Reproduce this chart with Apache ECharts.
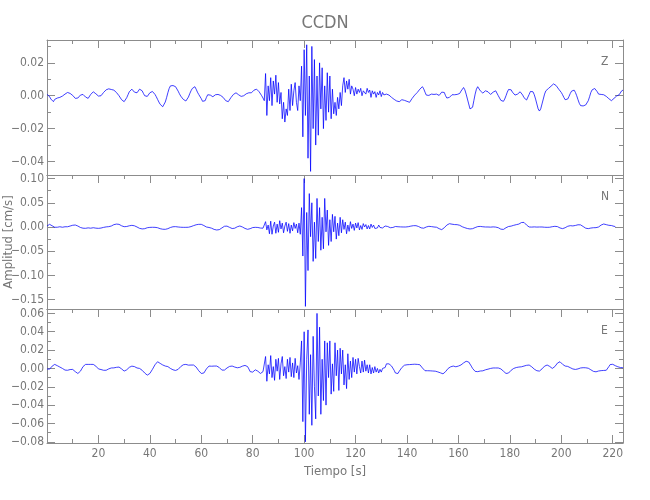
<!DOCTYPE html>
<html>
<head>
<meta charset="utf-8">
<script src="https://cdn.jsdelivr.net/npm/echarts@6/dist/echarts.min.js"></script>
<style>html,body{margin:0;padding:0;background:#fff}#chart{width:650px;height:500px}</style>
</head>
<body>
<div id="chart"></div>
<script>
// ---- data ----
const stationName = 'CCDN';
const componentNames = ['Z', 'N', 'E'];
const yAxisTitle = 'Amplitud [cm/s]';
const xAxisTitle = 'Tiempo [s]';
const SAMPLE_DT = 0.5;      // s between samples
const T_START = 0;          // s
const timeRange = [0, 224];
const timeTicks = [20, 40, 60, 80, 100, 120, 140, 160, 180, 200, 220];
const timeMinorTicks = [10, 30, 50, 70, 90, 110, 130, 150, 170, 190, 210];

const zRange = [-0.0482, 0.0339];
const zTicks = [-0.04, -0.02, 0, 0.02];
const zMinorTicks = [-0.03, -0.01, 0.01, 0.03];
const nRange = [-0.1694, 0.1074];
const nTicks = [-0.15, -0.10, -0.05, 0, 0.05, 0.10];
const nMinorTicks = [-0.125, -0.075, -0.025, 0.025, 0.075];
const eRange = [-0.0813, 0.0648];
const eTicks = [-0.08, -0.06, -0.04, -0.02, 0, 0.02, 0.04, 0.06];
const eMinorTicks = [-0.07, -0.05, -0.03, -0.01, 0.01, 0.03, 0.05];

// vertical velocity (cm/s), one value every SAMPLE_DT
const zValues = [
0.0008,0.0002,-0.0005,-0.002,-0.0032,-0.0036,-0.0022,-0.0012,-0.0014,-0.0008,
-0.001,-0.0006,-0.0002,0.0004,0.001,0.0016,0.002,0.0018,0.0014,0.0012,
0.0002,-0.0008,-0.0016,-0.002,-0.0014,-0.0004,0.0004,0.001,0.0008,0.0002,
-0.0008,-0.0014,-0.0016,-0.0006,0.0008,0.0018,0.0024,0.002,0.0012,0.0004,
-0.0002,-0.0006,0,0.001,0.002,0.0028,0.0036,0.004,0.0042,0.0044,
0.0038,0.0036,0.0034,0.003,0.002,0.001,0,-0.0012,-0.0024,-0.0032,
-0.0036,-0.0028,-0.0012,0.0006,0.0024,0.0036,0.004,0.0032,0.0022,0.0012,
0.0018,0.003,0.004,0.0044,0.003,0.0014,0,-0.001,-0.0004,0.0008,
0.0018,0.0024,0.0026,0.002,0.0008,-0.0006,-0.0022,-0.0038,-0.0052,-0.0062,
-0.0067,-0.0058,-0.0038,-0.0012,0.0018,0.0044,0.006,0.0065,0.0062,0.0058,
0.0055,0.0044,0.0028,0.0012,-0.0002,-0.0012,-0.0022,-0.003,-0.0032,-0.0024,
-0.0008,0.0012,0.003,0.0044,0.0052,0.0055,0.004,0.0022,0.0008,0.0002,
-0.0018,-0.0034,-0.0042,-0.003,-0.001,0.0006,0.001,0.0004,-0.0002,-0.0006,
0,0.0006,0.0004,0.0008,0.0008,0.0002,-0.0004,-0.001,-0.002,-0.003,
-0.0034,-0.0036,-0.0026,-0.0012,0,0.0008,0.0014,0.0018,0.0012,0.0006,
0,-0.0004,-0.0006,0,0.0006,0.0012,0.0014,0.0018,0.0014,0.0018,
0.0026,0.0034,0.0038,0.004,0.0034,0.0024,0.0012,0,-0.0014,-0.003,
0.0135,-0.012,0.006,-0.003,0.011,-0.006,0.009,0.001,0.0125,-0.004,
0.008,-0.005,0.002,-0.014,-0.004,-0.016,-0.008,-0.012,0.004,-0.009,
0.007,-0.006,0.003,0.008,-0.004,-0.009,0.006,-0.003,0.018,-0.025,
0.028,-0.012,0.031,-0.038,0.012,-0.046,0.03,-0.02,0.022,-0.03,
0.012,-0.024,0.02,-0.008,0.017,-0.02,0.006,-0.015,0.014,-0.01,
0.012,-0.014,0.004,-0.011,-0.004,-0.012,-0.001,-0.008,0.002,-0.006,
0.006,0.011,0.002,0.009,0.004,0.01,0.001,0.006,0.004,0,
0.005,0.001,0.004,0.002,0.0045,0,0.003,0.004,0.001,0.0045,
0.002,0.0035,-0.001,0.003,0.001,0.0025,-0.001,0.002,0.0005,0.003,
-0.0005,0.002,0.0005,0.0015,0.001,0.0005,
0.0004,-0.0002,-0.001,-0.0018,-0.0022,-0.0028,-0.0032,-0.0036,-0.0036,-0.003,
-0.0024,-0.0022,-0.0028,-0.0026,-0.0034,-0.0038,-0.004,-0.003,-0.0016,-0.0006,
0.0004,0.0012,0.002,0.003,0.004,0.005,0.0055,0.0042,0.0022,0.0004,
-0.0006,0.0002,0.0006,0.001,0.0014,0.0008,0.0006,0.001,0.0004,0.0002,
0.001,0.0022,0.0032,0.002,0,-0.0014,-0.002,-0.001,0.0002,0.0006,
0.0008,0.0006,0.0004,0.0008,0.0006,0.0014,0.0028,0.004,0.005,0.0036,
0.001,-0.002,-0.005,-0.008,-0.009,-0.007,-0.003,0.001,0.004,0.0055,
0.0044,0.003,0.0024,0.0016,0.0022,0.003,0.0034,0.0024,0.0012,0.0008,
0.0014,0.0022,0.0026,0.003,0.0018,0,-0.0014,-0.0028,-0.0036,-0.0034,
-0.002,0,0.0022,0.0038,0.0044,0.0036,0.0022,0.001,0.0004,0.0002,
0.001,0.0018,0.0024,0.002,0.0004,-0.0012,-0.0022,-0.0026,-0.0014,0.0008,
0.0026,0.0034,0.0024,0.0006,-0.002,-0.005,-0.008,-0.0093,-0.008,-0.005,
-0.002,0.001,0.003,0.004,0.0044,0.005,0.0058,0.0066,0.0072,0.0075,
0.0062,0.005,0.004,0.003,0.002,0.0006,-0.001,-0.0024,-0.003,-0.002,
-0.0004,0.0014,0.0028,0.0036,0.0034,0.002,0,-0.0024,-0.0046,-0.006,
-0.0066,-0.0062,-0.0054,-0.0056,-0.0048,-0.003,-0.0006,0.002,0.0036,0.0042,
0.0044,0.004,0.0024,0.001,0.0004,0.0008,0.0002,0.0006,0,-0.0004,
-0.001,-0.0018,-0.0024,-0.003,-0.0028,-0.0016,-0.0006,-0.0002,0.0002,0.0006,
0.0018,0.003,0.0034
];

// north-south velocity (cm/s)
const nValues = [
0.002,0.004,0.0055,0.0045,0.0025,0.0005,-0.0005,-0.001,-0.0005,0,
0.0005,0,-0.0005,0,0.0005,0.0008,0.0005,0.001,0.002,0.003,
0.0036,0.004,0.0041,0.0035,0.002,0.0005,-0.001,-0.002,-0.0025,-0.0027,
-0.0027,-0.0022,-0.0018,-0.0022,-0.0025,-0.002,-0.0015,-0.0018,-0.0024,-0.0027,
-0.0028,-0.0027,-0.0022,-0.0015,-0.0008,-0.0002,0.0002,0.0005,0.0007,0.001,
0.002,0.0035,0.0048,0.0056,0.006,0.0062,0.0055,0.004,0.0025,0.0012,
0.0006,0.0007,0.001,0.0018,0.0025,0.003,0.0034,0.0032,0.0025,0.0012,
0,-0.0015,-0.0028,-0.0036,-0.004,-0.0041,-0.0035,-0.0025,-0.0015,-0.001,
-0.0008,-0.0005,-0.0006,-0.0008,-0.0007,-0.0007,-0.0015,-0.0025,-0.0035,-0.0042,
-0.0046,-0.0048,-0.0048,-0.0045,-0.0035,-0.0022,-0.001,0,0.0005,0.0007,
0.0007,0.0005,0,-0.0003,-0.0005,-0.0006,-0.0007,-0.0008,-0.0007,-0.0007,
-0.0005,0,0.0008,0.0018,0.0028,0.0038,0.0046,0.0052,0.0055,0.0056,
0.0055,0.0045,0.003,0.0015,0,-0.0007,-0.001,-0.0015,-0.0025,-0.0038,
-0.005,-0.0058,-0.0062,-0.0062,-0.0055,-0.004,-0.002,0,0.0015,0.0021,
0.0018,0.0008,-0.0008,-0.0022,-0.0032,-0.0034,-0.0025,-0.001,0.0005,0.0018,
0.0021,0.0015,0,-0.0015,-0.003,-0.0042,-0.0048,-0.0045,-0.0035,-0.0022,
-0.0012,-0.0008,-0.0007,-0.0007,-0.001,-0.0015,-0.0022,-0.0027,-0.0025,-0.0015,
0.011,-0.006,0.004,-0.014,0.012,-0.015,0.002,0.01,-0.013,0.006,
-0.011,0.013,-0.004,0.008,-0.012,0.002,0.01,-0.009,0.007,-0.013,
0.004,-0.008,0.009,-0.003,0.006,-0.012,0.008,-0.015,0.04,-0.06,
0.1,-0.164,0.03,-0.09,0.069,-0.02,0.05,-0.071,0.01,-0.065,
0.059,-0.03,0.04,-0.048,0.02,-0.045,0.059,-0.01,0.035,-0.038,
0.015,-0.03,0.026,-0.01,0.022,-0.025,0.008,-0.018,0.02,-0.012,
0.015,-0.005,0.01,-0.014,0.004,-0.009,0.011,-0.003,0.006,-0.007,
0.008,-0.002,0.009,-0.006,0.003,-0.005,0.007,0,0.005,-0.004,
0.003,-0.004,0.006,-0.001,0.004,-0.003,0.001,-0.002,0.004,-0.001,
0.003,-0.002,0.001,0.002,-0.001,0.001,
0.002,-0.0015,0.0025,-0.001,0.002,0.001,0.0014,0.0005,0.0008,0.0002,
0.0006,0,0.0004,0,0.0002,0.0006,0.0012,0.0018,0.0024,0.0027,
0.0028,0.0027,0.002,0.001,-0.0005,-0.0018,-0.0027,-0.0025,-0.0012,0,
0.001,0.0014,0.0012,0.0008,0.0004,0,0,-0.0005,-0.0018,-0.0035,
-0.005,-0.0055,-0.004,-0.0015,0.0015,0.004,0.006,0.0068,0.0065,0.0058,
0.0052,0.005,0.005,0.0048,0.0045,0.0035,0.002,0.0005,-0.0005,-0.0015,
-0.0025,-0.0032,-0.0038,-0.0041,-0.0041,-0.0035,-0.0025,-0.0012,0,0.0008,
0.0014,0.0012,0.0008,0.0005,0.0002,0,0.0002,0,0,-0.0003,
0,0.0002,0,-0.0002,-0.0005,-0.0015,-0.003,-0.0045,-0.0055,-0.005,
-0.0035,-0.0015,0,0.001,0.0014,0.0018,0.0025,0.0035,0.0045,0.0048,
0.0052,0.006,0.0075,0.0092,0.0103,0.0095,0.007,0.004,0.0015,0,
-0.0003,-0.0002,0,0.0002,0,-0.0002,0,0,0.0002,0,
-0.0003,-0.0005,-0.0007,-0.0007,-0.0007,-0.0005,0,0.0006,0.0012,0.0014,
0.0014,0.0008,-0.0005,-0.002,-0.003,-0.0034,-0.0028,-0.0015,0,0.0015,
0.0025,0.0027,0.0025,0.0022,0.0025,0.0032,0.004,0.0046,0.0048,0.0044,
0.003,0.001,-0.001,-0.0025,-0.0032,-0.0034,-0.003,-0.0022,-0.0018,-0.0015,
-0.0014,-0.0014,-0.001,0,0.002,0.004,0.0055,0.0062,0.0058,0.0048,
0.004,0.0035,0.0034,0.003,0.0022,0.0014,0.001
];

// east-west velocity (cm/s)
const eValues = [
-0.0005,-0.0011,-0.0008,0.0005,0.0025,0.004,0.0044,0.0038,0.003,0.0022,
0.0015,0.0008,0,-0.001,-0.0018,-0.0022,-0.002,-0.0015,-0.0012,-0.001,
-0.0011,-0.002,-0.0035,-0.0048,-0.0055,-0.005,-0.003,-0.0005,0.002,0.0038,
0.0044,0.0046,0.0044,0.0042,0.0044,0.0045,0.0044,0.004,0.0025,0.0008,
-0.0005,-0.0011,-0.0012,-0.0015,-0.002,-0.0022,-0.002,-0.0012,-0.0005,0,
0.0005,0.0007,0.0006,0.0008,0.0012,0.0015,0.0015,0.0008,-0.0005,-0.002,
-0.0029,-0.0025,-0.0015,0,0.0012,0.002,0.0025,0.0026,0.002,0.0012,
0.0005,0,0,-0.0008,-0.002,-0.0035,-0.005,-0.0065,-0.0073,-0.007,
-0.0055,-0.0035,-0.001,0.0015,0.004,0.006,0.0073,0.0068,0.0055,0.0045,
0.0038,0.003,0.0026,0.0025,0.002,0.001,0,-0.0008,-0.0015,-0.002,
-0.0022,-0.002,-0.001,0.0005,0.002,0.0032,0.004,0.0044,0.0044,0.004,
0.0036,0.0035,0.0037,0.0038,0.0037,0.003,0.0015,-0.0005,-0.0025,-0.0045,
-0.0055,-0.0059,-0.005,-0.003,-0.0005,0.0015,0.0026,0.0026,0.0024,0.0025,
0.0026,0.0027,0.0026,0.0022,0.001,-0.0005,-0.0018,-0.0022,-0.0018,-0.0008,
0.0005,0.0015,0.0022,0.0026,0.0026,0.0022,0.0015,0.001,0.0007,0.0008,
0.0012,0.0018,0.0025,0.003,0.0033,0.0033,0.002,-0.0005,-0.0035,-0.0048,
-0.004,-0.0025,-0.0015,-0.0018,-0.003,-0.0045,-0.0055,-0.005,-0.0035,-0.0015,
0.013,-0.014,0.004,-0.006,0.014,-0.01,0.002,-0.013,0.01,-0.003,
0.011,-0.012,0.005,0.013,-0.008,0.002,-0.011,0.01,-0.004,0.012,
-0.009,0.006,-0.01,0.011,-0.005,0.003,-0.012,0.006,0.03,-0.058,
0.04,-0.08,0.01,0.042,-0.05,0.015,-0.062,0.035,-0.02,-0.055,
0.06,-0.03,0.045,-0.05,0.01,-0.035,0.03,-0.04,0.028,-0.01,
0.03,-0.028,0.005,-0.025,0.028,-0.008,0.02,-0.024,0.022,-0.006,
0.02,-0.018,0.004,-0.022,0.016,-0.012,0.008,-0.01,0.012,-0.004,
0.01,-0.006,0.011,0.002,-0.005,0.008,-0.004,0.009,-0.003,0.004,
-0.005,0.004,-0.006,0.001,-0.005,0.002,-0.004,0,-0.005,-0.001,
-0.004,0,0.002,0.001,0.005,0.006,
0.005,0.003,0.0026,0.001,-0.002,-0.005,-0.0066,-0.0055,-0.003,-0.001,
0.001,0.0025,0.0035,0.0044,0.004,0.0036,0.0042,0.0048,0.0044,0.004,
0.0046,0.005,0.0044,0.0044,0.004,0.0025,0.0005,-0.0015,-0.0025,-0.0029,
-0.0025,-0.0022,-0.0026,-0.003,-0.0028,-0.0025,-0.003,-0.0035,-0.0038,-0.0042,
-0.0048,-0.0055,-0.0059,-0.005,-0.0035,-0.0015,0,0.001,0.0018,0.0024,
0.0026,0.0022,0.0018,0.0022,0.0026,0.003,0.0038,0.0048,0.006,0.0072,
0.0078,0.008,0.007,0.005,0.0025,0,-0.002,-0.0032,-0.0037,-0.0035,
-0.003,-0.0028,-0.003,-0.0026,-0.002,-0.0015,-0.0011,-0.0008,-0.0005,0,
0.0003,0.0005,0.0007,0.0005,0.0003,0.0005,0.0002,-0.0005,-0.0015,-0.003,
-0.0045,-0.0055,-0.0059,-0.005,-0.0035,-0.002,-0.0008,0,0.0005,0.001,
0.0012,0.0015,0.0015,0.0018,0.0022,0.0026,0.003,0.0034,0.0036,0.0037,
0.003,0.0018,0.0005,-0.0008,-0.0018,-0.0025,-0.0029,-0.0029,-0.002,-0.0005,
0.001,0.0025,0.0034,0.0037,0.0032,0.0022,0.001,0,0.0005,0.002,
0.004,0.0058,0.007,0.0073,0.006,0.0045,0.0032,0.0026,0.0025,0.0022,
0.0015,0.0008,0,-0.0006,-0.001,-0.0011,-0.001,-0.0005,0,0.0005,
0.0007,0.0008,0.0007,0.0007,0.0005,0.0002,-0.0005,-0.0015,-0.0025,-0.0032,
-0.0037,-0.0037,-0.0032,-0.0028,-0.0025,-0.0024,-0.0022,-0.0022,-0.0022,-0.002,
-0.0005,0.002,0.0042,0.0051,0.0045,0.0036,0.003,0.0025,0.0018,0.0012,
0.001,0.0008,0.0007
];

// ---- chart ----
const FONT = "'Liberation Sans Narrow','DejaVu Sans Condensed','Liberation Sans',sans-serif";
const TXT = '#777777';
const AX = '#8c8c8c';
const traces = [zValues, nValues, eValues];
const ranges = [zRange, nRange, eRange];
const majors = [zTicks, nTicks, eTicks];
const minors = [zMinorTicks, nMinorTicks, eMinorTicks];
const grids = [
  {left: 47, width: 576, top: 40, height: 135},
  {left: 47, width: 576, top: 175, height: 134},
  {left: 47, width: 576, top: 309, height: 134}
];
const fmtY = v => (v < 0 ? '\u2212' : '') + Math.abs(v).toFixed(2);

const xAxes = [], yAxes = [], series = [];
grids.forEach((g, gi) => {
  const last = gi === grids.length - 1;
  const baseX = {type: 'value', gridIndex: gi, min: timeRange[0], max: timeRange[1],
    splitLine: {show: false}, axisLine: {onZero: false, lineStyle: {color: AX, width: 1}}};
  const mainX = xAxes.length;
  xAxes.push(Object.assign({}, baseX, {
    position: 'bottom',
    axisTick: {show: last, inside: true, length: 8, customValues: timeTicks, lineStyle: {color: AX}},
    axisLabel: {show: last, customValues: timeTicks, color: TXT, fontFamily: FONT, fontSize: 12, margin: 5},
    name: last ? xAxisTitle : '', nameLocation: 'middle', nameGap: 22,
    nameTextStyle: {color: TXT, fontFamily: FONT, fontSize: 13}
  }));
  if (last) xAxes.push(Object.assign({}, baseX, {position: 'bottom', axisLine: {show: false, onZero: false},
    axisTick: {show: true, inside: true, length: 4, customValues: timeMinorTicks, lineStyle: {color: AX}},
    axisLabel: {show: false}}));
  xAxes.push(Object.assign({}, baseX, {position: 'top',
    axisTick: {show: true, inside: true, length: 8, customValues: timeTicks, lineStyle: {color: AX}},
    axisLabel: {show: false}}));
  xAxes.push(Object.assign({}, baseX, {position: 'top', axisLine: {show: false, onZero: false},
    axisTick: {show: true, inside: true, length: 4, customValues: timeMinorTicks, lineStyle: {color: AX}},
    axisLabel: {show: false}}));

  const baseY = {type: 'value', gridIndex: gi, min: ranges[gi][0], max: ranges[gi][1],
    splitLine: {show: false}, axisLine: {onZero: false, lineStyle: {color: AX, width: 1}}};
  const mainY = yAxes.length;
  yAxes.push(Object.assign({}, baseY, {position: 'left',
    axisTick: {show: true, inside: true, length: 8, customValues: majors[gi], lineStyle: {color: AX}},
    axisLabel: {show: true, customValues: majors[gi], formatter: fmtY, color: TXT, fontFamily: FONT, fontSize: 12, margin: 3}
  }));
  yAxes.push(Object.assign({}, baseY, {position: 'left', axisLine: {show: false, onZero: false},
    axisTick: {show: true, inside: true, length: 4, customValues: minors[gi], lineStyle: {color: AX}},
    axisLabel: {show: false}}));
  yAxes.push(Object.assign({}, baseY, {position: 'right',
    axisTick: {show: true, inside: true, length: 8, customValues: majors[gi], lineStyle: {color: AX}},
    axisLabel: {show: false}}));
  yAxes.push(Object.assign({}, baseY, {position: 'right', axisLine: {show: false, onZero: false},
    axisTick: {show: true, inside: true, length: 4, customValues: minors[gi], lineStyle: {color: AX}},
    axisLabel: {show: false}}));

  series.push({
    type: 'line', name: componentNames[gi], xAxisIndex: mainX, yAxisIndex: mainY,
    data: traces[gi].map((v, i) => [T_START + i * SAMPLE_DT, v]),
    showSymbol: false, symbol: 'none', clip: true,
    lineStyle: {color: '#0000ff', width: 0.75}, silent: true
  });
});

const graphics = componentNames.map((c, gi) => ({
  type: 'text', left: 601, top: grids[gi].top + 16,
  style: {text: c, fill: TXT, font: '12px ' + FONT}
}));
graphics.push({
  type: 'text', x: 9, y: 242, rotation: Math.PI / 2,
  style: {text: yAxisTitle, fill: TXT, font: '13px ' + FONT, align: 'center', verticalAlign: 'middle'}
});

const chart = echarts.init(document.getElementById('chart'), null, {renderer: 'canvas'});
chart.setOption({
  animation: false,
  backgroundColor: '#ffffff',
  title: {text: stationName, left: 'center', top: 9,
    textStyle: {color: TXT, fontFamily: FONT, fontSize: 18, fontWeight: 'normal'}},
  grid: grids.map(g => Object.assign({containLabel: false, outerBoundsMode: 'none'}, g)),
  xAxis: xAxes,
  yAxis: yAxes,
  series: series,
  graphic: graphics
});
</script>
</body>
</html>
